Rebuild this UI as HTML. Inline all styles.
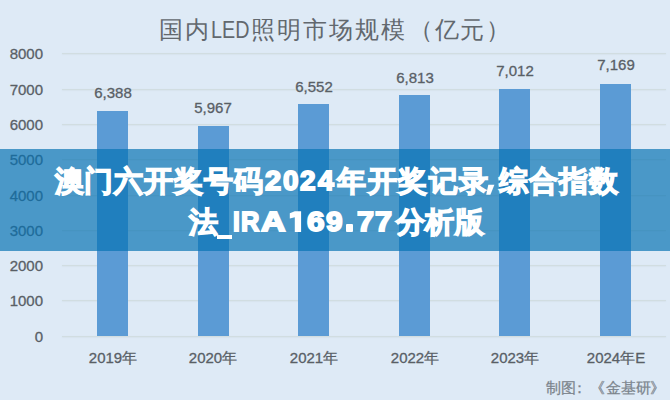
<!DOCTYPE html>
<html><head><meta charset="utf-8">
<style>
*{margin:0;padding:0;box-sizing:border-box}
html,body{width:670px;height:400px;overflow:hidden}
body{position:relative;font-family:"Liberation Sans",sans-serif;background:#deeaf6}
.title{position:absolute;left:160px;top:14px;font-size:24px;color:#62686e;white-space:nowrap;line-height:32px}
.yl{position:absolute;left:0;width:43px;text-align:right;font-size:15px;color:#595f66;line-height:16px;-webkit-text-stroke:0.3px #595f66}
.gl{position:absolute;left:62px;width:604px;height:1px;background:#d1dde1;box-shadow:0 0.5px 1px rgba(200,215,220,0.6)}
.bar{position:absolute;width:31px;background:#5b9bd5;bottom:64px}
.vl{position:absolute;width:60px;text-align:center;font-size:15px;color:#595f66;line-height:16px;-webkit-text-stroke:0.3px #595f66}
.xl{position:absolute;width:90px;text-align:center;font-size:15px;color:#595f66;line-height:16px;top:350px;-webkit-text-stroke:0.3px #595f66}
.foot{position:absolute;top:379px;font-size:15px;color:#7b848c;line-height:18px;white-space:nowrap;-webkit-text-stroke:0.25px #7b848c}
.banner{position:absolute;left:0;top:149px;width:670px;height:102px;background:rgba(5,113,179,0.68)}
.lg{position:absolute;color:#fff;font-weight:bold;font-size:27px;line-height:40px;white-space:pre;-webkit-text-stroke:1.8px #fff;transform-origin:0 0}
.bt{position:absolute;color:#fff;font-weight:bold;font-size:28.5px;line-height:40px;white-space:nowrap;-webkit-text-stroke:1.3px #fff}
</style></head><body>
<div class="title" style="left:159px;letter-spacing:2px">国内</div>
<div class="title" style="left:211px;top:14px;font-size:23.5px;transform:scaleX(0.84);transform-origin:0 0">LED</div>
<div class="title" style="left:251px;letter-spacing:2px">照明市场规模</div>
<div class="title" style="left:409px;letter-spacing:1.7px">（亿元</div>
<div class="title" style="left:485.5px">）</div>

<div class="gl" style="top:53px"></div>
<div class="gl" style="top:89px"></div>
<div class="gl" style="top:124px"></div>
<div class="gl" style="top:159px"></div>
<div class="gl" style="top:195px"></div>
<div class="gl" style="top:230px"></div>
<div class="gl" style="top:265px"></div>
<div class="gl" style="top:300px"></div>
<div class="gl" style="top:336px"></div>

<div class="yl" style="top:46px">8000</div>
<div class="yl" style="top:82px">7000</div>
<div class="yl" style="top:117px">6000</div>
<div class="yl" style="top:152px">5000</div>
<div class="yl" style="top:188px">4000</div>
<div class="yl" style="top:223px">3000</div>
<div class="yl" style="top:258px">2000</div>
<div class="yl" style="top:293px">1000</div>
<div class="yl" style="top:329px">0</div>

<div class="bar" style="left:97px;top:111px"></div>
<div class="bar" style="left:198px;top:126px"></div>
<div class="bar" style="left:298px;top:104px"></div>
<div class="bar" style="left:399px;top:95px"></div>
<div class="bar" style="left:499px;top:88.5px"></div>
<div class="bar" style="left:600px;top:83.5px"></div>

<div class="vl" style="left:83px;top:85px">6,388</div>
<div class="vl" style="left:183px;top:100px">5,967</div>
<div class="vl" style="left:284px;top:79px">6,552</div>
<div class="vl" style="left:385px;top:70px">6,813</div>
<div class="vl" style="left:485px;top:63px">7,012</div>
<div class="vl" style="left:586px;top:57px">7,169</div>

<div class="xl" style="left:68px">2019年</div>
<div class="xl" style="left:168px">2020年</div>
<div class="xl" style="left:269px">2021年</div>
<div class="xl" style="left:370px">2022年</div>
<div class="xl" style="left:470px">2023年</div>
<div class="xl" style="left:571px">2024年E</div>

<div class="foot" style="left:545.5px">制图</div>
<div class="foot" style="left:571.5px">：</div>
<div class="foot" style="left:590px">《</div>
<div class="foot" style="left:605.5px;letter-spacing:0px">金基研</div>
<div class="foot" style="left:650px">》</div>

<div class="banner"></div>
<div class="bt" style="top:160.5px;left:54.5px;letter-spacing:0.9px">澳门六开奖号码</div>
<div class="bt" style="top:160.5px;left:337px;letter-spacing:1.6px">年开奖记录</div>
<div class="bt" style="top:160.5px;left:498.5px;letter-spacing:1.2px">综合指数</div>
<div class="bt" style="top:201.5px;left:188.5px">法</div>
<div class="bt" style="top:201.5px;left:395.7px;letter-spacing:0.5px">分析版</div>
<!--LATIN-->
<div class="lg" style="left:264.6px;top:161.4px;transform:scaleX(1.073)">2</div>
<div class="lg" style="left:282.5px;top:161.4px;transform:scaleX(1.033)">0</div>
<div class="lg" style="left:299.8px;top:161.4px;transform:scaleX(1.033)">2</div>
<div class="lg" style="left:317.6px;top:161.4px;transform:scaleX(1.053)">4</div>
<div class="lg" style="left:233.0px;top:202.3px;transform:scaleX(0.900)">I</div>
<div class="lg" style="left:241.3px;top:202.3px;transform:scaleX(0.942)">R</div>
<div class="lg" style="left:261.3px;top:202.3px;transform:scaleX(1.255)">A</div>
<div class="lg" style="left:307.0px;top:202.3px;transform:scaleX(1.167)">6</div>
<div class="lg" style="left:326.3px;top:202.3px;transform:scaleX(1.100)">9</div>
<div class="lg" style="left:356.6px;top:202.3px;transform:scaleX(1.133)">7</div>
<div class="lg" style="left:375.4px;top:202.3px;transform:scaleX(1.133)">7</div>
<div style="position:absolute;left:345.8px;top:224.2px;width:7.6px;height:7.7px;background:#fff;border-radius:1px"></div>
<div style="position:absolute;left:217px;top:235px;width:15.2px;height:4.1px;background:#fff"></div>
<svg style="position:absolute;left:0;top:0" width="670" height="400"><polygon points="488.3,184.7 494.4,184.7 490.4,194.8 486.2,194.8" fill="#fff"/><polygon points="294.8,211.2 301.1,211.2 301.1,231.9 294.8,231.9 294.8,217.2 289.8,218.6 289.8,213.2" fill="#fff"/></svg>
<!--/LATIN-->
</body></html>
